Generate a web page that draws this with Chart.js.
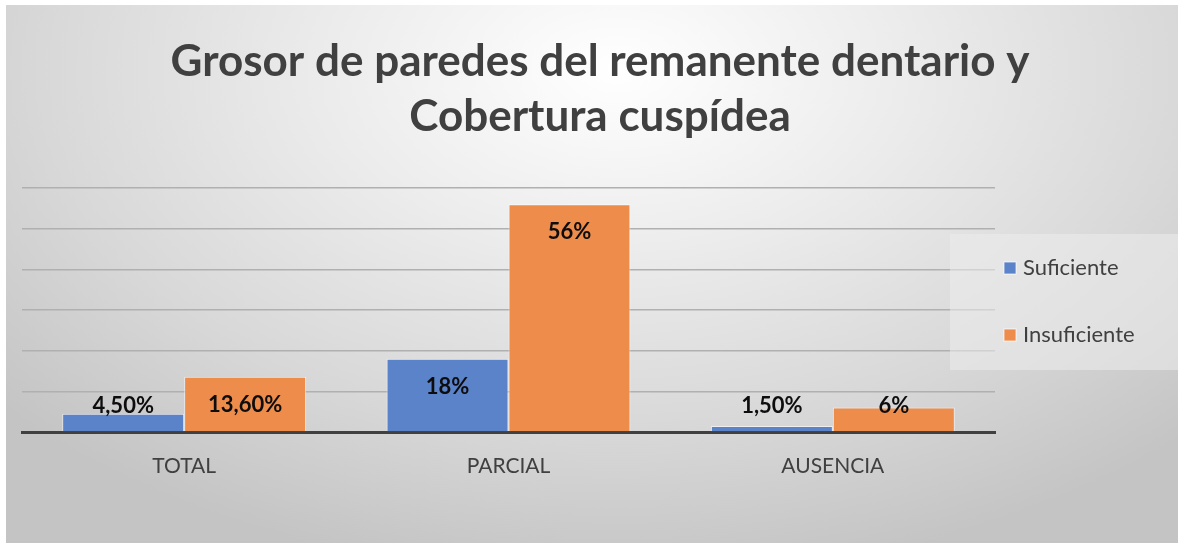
<!DOCTYPE html>
<html>
<head>
<meta charset="utf-8">
<script src="https://cdn.jsdelivr.net/npm/chart.js@4.4.1/dist/chart.umd.min.js"></script>
<style>
    html, body { margin: 0; padding: 0; background: #fff; }
    #wrap {
        position: absolute; left: 6px; top: 5px; width: 1172px; height: 538px;
        background: radial-gradient(ellipse 70% 95% at 52% 12%, #ffffff 0%, #ececec 35%, #d8d8d8 70%, #c4c4c4 100%);
    }
</style>
</head>
<body>
<div id="wrap"><canvas id="chart" width="1172" height="538"></canvas></div>
<script>
const categories = ["TOTAL", "PARCIAL", "AUSENCIA"];
const suficiente = [4.5, 18, 1.5];
const insuficiente = [13.6, 56, 6];
const seriesNames = ["Suficiente", "Insuficiente"];
const seriesColors = ["#5b83c9", "#ed8c4b"];
const titleLines = ["Grosor de paredes del remanente dentario y", "Cobertura cuspídea"];

function fmt(v) {
    // same look as the sheet: 18% but 4,50%
    if (Number.isInteger(v)) return v + "%";
    return v.toFixed(2).replace(".", ",") + "%";
}

// value labels inside the end of each bar
const valueLabels = {
    id: "valueLabels",
    afterDatasetsDraw(chart) {
        const ctx = chart.ctx;
        ctx.save();
        ctx.font = "bold 22px Lato";
        ctx.fillStyle = "#0d0d0d";
        ctx.textAlign = "center";
        ctx.textBaseline = "middle";
        chart.data.datasets.forEach((ds, i) => {
            chart.getDatasetMeta(i).data.forEach((bar, j) => {
                let y = Math.min(bar.y + 28, bar.base - 25);
                ctx.fillText(fmt(ds.data[j]), bar.x, y);
            });
        });
        ctx.restore();
    }
};

// legend box on the right, like the original
const sideLegend = {
    id: "sideLegend",
    afterDraw(chart) {
        const ctx = chart.ctx;
        ctx.save();
        ctx.fillStyle = "rgba(236,236,236,0.55)";
        ctx.fillRect(944, 229, 230, 136);
        ctx.font = "22px Lato";
        ctx.textBaseline = "middle";
        chart.data.datasets.forEach((ds, i) => {
            let y = 263 + i * 67;
            ctx.fillStyle = ds.backgroundColor;
            ctx.fillRect(998, y - 6, 12, 12);
            ctx.strokeStyle = "rgba(255,255,255,0.7)";
            ctx.strokeRect(998, y - 6, 12, 12);
            ctx.fillStyle = "#404040";
            ctx.fillText(ds.label, 1017, y);
        });
        ctx.restore();
    }
};

new Chart(document.getElementById("chart"), {
    type: "bar",
    data: {
        labels: categories,
        datasets: [
            { label: seriesNames[0], data: suficiente, backgroundColor: seriesColors[0], borderColor: "rgba(255,255,255,0.6)", borderWidth: 1 },
            { label: seriesNames[1], data: insuficiente, backgroundColor: seriesColors[1], borderColor: "rgba(255,255,255,0.6)", borderWidth: 1 }
        ]
    },
    options: {
        responsive: false,
        animation: false,
        datasets: { bar: { categoryPercentage: 0.752, barPercentage: 1 } },
        layout: { padding: { left: 16, right: 0, top: 0, bottom: 0 } },
        plugins: {
            legend: { display: false },
            tooltip: { enabled: false },
            title: {
                display: true,
                text: titleLines,
                color: "#404040",
                font: { family: "Lato", size: 44, weight: "bold", lineHeight: 1.25 },
                padding: { top: 29, bottom: 44 }
            }
        },
        scales: {
            x: {
                grid: { display: false, drawTicks: false },
                border: { display: true, color: "#404040", width: 3 },
                ticks: { color: "#404040", font: { family: "Lato", size: 21 }, padding: 22 },
                afterFit: s => { s.height = 111; }
            },
            y: {
                min: 0,
                max: 60,
                ticks: { display: false, stepSize: 10 },
                grid: { color: "#b0b0b0", lineWidth: 1.5, drawTicks: false },
                border: { display: false },
                afterFit: s => { s.width = 0; }
            },
            // empty axis on the right just to keep room for the legend box
            side: {
                type: "linear",
                position: "right",
                display: true,
                grid: { display: false, drawTicks: false },
                ticks: { display: false },
                border: { display: false },
                afterFit: s => { s.width = 183; }
            }
        }
    },
    plugins: [valueLabels, sideLegend]
});
</script>
</body>
</html>
